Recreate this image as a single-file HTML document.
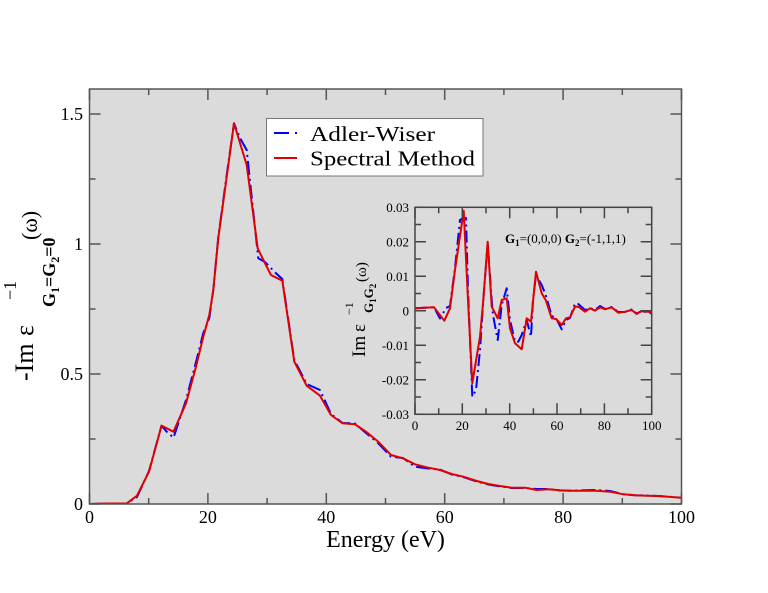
<!DOCTYPE html>
<html><head><meta charset="utf-8"><style>
html,body{margin:0;padding:0;background:#fff;}
svg{display:block;}
text{font-family:"Liberation Serif","DejaVu Serif",serif;fill:#000;}
</style></head><body>
<svg width="768" height="593" viewBox="0 0 768 593" xmlns="http://www.w3.org/2000/svg">
<defs>
<clipPath id="cm"><rect x="89.5" y="89" width="592" height="415"/></clipPath>
<clipPath id="ci"><rect x="415" y="207.3" width="236.7" height="207"/></clipPath>
</defs>
<rect x="0" y="0" width="768" height="593" fill="#fff"/>
<rect x="89.5" y="89" width="592" height="415" fill="#dbdbdb"/>

<g clip-path="url(#cm)" fill="none" stroke-width="2" stroke-linejoin="round">
<polyline stroke="#0000ff" stroke-dasharray="14,4,2,4" points="89.5,504 107,503.5 126.7,503.5 137,497 149,471 161.5,425.7 167,432 173.5,437.7 186,400 196,362 203.3,333 209.3,318 213.3,290 218.3,237 226,180 234,123.3 240,138 246.7,150 252,200 258.3,258.3 265,262 275.7,273 282.3,279 294.3,360 306.7,384 320,390 331,414 342.5,423 355,423.5 366,433 378,443 391,456.7 403,458 415,466.7 428.3,468.5 440,469.5 451.7,474.5 463.3,477 476.7,481.5 488.3,484.5 500,486.5 511.7,488 525,488 536.7,489 548.3,489 560,490.5 571.7,490.7 596.7,490 610,491 623.3,494.3 635,495.3 646.7,495.5 658.3,496 681.5,497.7"/>
<polyline stroke="#e00000" points="89.5,504 107,503.5 126.7,503.5 137,495.7 149,471.7 161.5,425.7 173.5,431.7 186,403.3 196,366.7 203.3,336.7 209.3,315 213.3,290 218.3,238 226.7,177 234,123.3 246.7,165 257.7,248.3 265,263.3 271,275 282.3,280.7 294.3,361.7 306.7,385.7 320,395.7 331,415 342.5,423.3 355,424.3 366,431.7 378,441.5 391,455 403,458.3 415,464.3 428.3,467.7 440,470 451.7,474 463.3,476.7 476.7,481 488.3,484 500,486 511.7,487.7 525,487.7 536.7,490 548.3,489.3 560,490.3 571.7,490.7 596.7,490.7 610,491.7 623.3,494.3 635,495.3 646.7,495.7 658.3,496 681.5,497.7"/>
</g>

<rect x="89.5" y="89" width="592" height="415" fill="none" stroke="#555" stroke-width="1.5"/>
<g stroke="#555" stroke-width="1.5">
<path d="M89.5,504v-11M207.9,504v-11M326.3,504v-11M444.7,504v-11M563.1,504v-11M681.5,504v-11"/>
<path d="M89.5,89v11M207.9,89v11M326.3,89v11M444.7,89v11M563.1,89v11M681.5,89v11"/>
<path d="M148.7,504v-6M267.1,504v-6M385.5,504v-6M503.9,504v-6M622.3,504v-6"/>
<path d="M148.7,89v6M267.1,89v6M385.5,89v6M503.9,89v6M622.3,89v6"/>
<path d="M89.5,504h11M89.5,374h11M89.5,244h11M89.5,114h11"/>
<path d="M681.5,504h-11M681.5,374h-11M681.5,244h-11M681.5,114h-11"/>
<path d="M89.5,439h6M89.5,309h6M89.5,179h6"/>
<path d="M681.5,439h-6M681.5,309h-6M681.5,179h-6"/>
</g>

<g font-size="18" text-anchor="end">
<text x="83" y="510">0</text>
<text x="83" y="380">0.5</text>
<text x="83" y="250">1</text>
<text x="83" y="120">1.5</text>
</g>
<g font-size="18" text-anchor="middle">
<text x="89.5" y="523">0</text>
<text x="207.9" y="523">20</text>
<text x="326.3" y="523">40</text>
<text x="444.7" y="523">60</text>
<text x="563.1" y="523">80</text>
<text x="681.5" y="523">100</text>
</g>
<text x="385.5" y="547" font-size="24" text-anchor="middle">Energy (eV)</text>

<g transform="translate(33,381) rotate(-90)">
<text x="0" y="0" font-size="26">-Im</text>
<text x="45" y="0" font-size="26">ε</text>
<text x="81" y="-17" font-size="18">−1</text>
<text x="74" y="22" font-size="18" font-weight="bold">G<tspan font-size="12" dy="4">1</tspan><tspan dy="-4">=G</tspan><tspan font-size="12" dy="4">2</tspan><tspan dy="-4">=0</tspan></text>
<text x="141" y="4" font-size="22">(ω)</text>
</g>

<rect x="266.5" y="118.5" width="216.5" height="57.5" fill="#fff" stroke="#777" stroke-width="1"/>
<line x1="274" y1="133" x2="297" y2="133" stroke="#0000ff" stroke-width="2" stroke-dasharray="15,6,2,10"/>
<line x1="274" y1="158" x2="297" y2="158" stroke="#e00000" stroke-width="2"/>
<text x="310" y="141" font-size="21" textLength="125" lengthAdjust="spacingAndGlyphs">Adler-Wiser</text>
<text x="310" y="165.5" font-size="21" textLength="165" lengthAdjust="spacingAndGlyphs">Spectral Method</text>

<g clip-path="url(#ci)" fill="none" stroke-width="2" stroke-linejoin="round">
<polyline stroke="#0000ff" stroke-dasharray="12,4,2,4" points="415,308.3 434,307.3 440,318.5 446,308 450,306 455,268 460,220 463,218 466,218 468,290 472.3,396.7 476,390 480,350 483.3,300 487.7,243 491.7,300 493,315 497.7,340 501.7,305 506.7,288.3 510,320 515,341.7 518.3,341.7 521.7,335 526.7,320 531,336.7 533,300 536,275 541.7,285 545.7,295 551.7,316 556,318 561.7,329.3 566,320 570,318 575,303.3 578.3,304 585,310 590,308.3 595,310 600,306 605,309 611.7,307 618.3,312 625,312 631.7,309.5 636.7,313.5 641.7,311 651.7,313.5"/>
<polyline stroke="#e00000" points="415,308.3 434,307.3 444.3,320.7 450,308.3 455,270 463.7,210.7 468,300 472.3,383.3 480,336.7 483.3,300 487.7,241.7 491.7,306.7 497.7,318.3 501.7,300 506.7,298.3 510,328.3 515,343.3 521.7,349.3 526.7,318.3 531,321.7 536,271.7 541.7,293.3 545.7,300 551.7,318.3 556,319 561.7,325 566,318.3 570,317.3 575,306.7 578.3,306.7 585,311.7 590,308.3 595,310.7 600,307.3 605,309.3 611.7,307.3 618.3,312.7 625,311.7 631.7,310 636.7,314 641.7,311 651.7,312.3"/>
</g>

<rect x="415" y="207.3" width="236.7" height="207" fill="none" stroke="#444" stroke-width="1.5"/>
<g stroke="#444" stroke-width="1.5">
<path d="M415,414.3v-11M462.3,414.3v-11M509.7,414.3v-11M557,414.3v-11M604.4,414.3v-11M651.7,414.3v-11"/>
<path d="M415,207.3v11M462.3,207.3v11M509.7,207.3v11M557,207.3v11M604.4,207.3v11M651.7,207.3v11"/>
<path d="M438.7,414.3v-6M486,414.3v-6M533.4,414.3v-6M580.7,414.3v-6M628,414.3v-6"/>
<path d="M438.7,207.3v6M486,207.3v6M533.4,207.3v6M580.7,207.3v6M628,207.3v6"/>
<path d="M415,207.3h11M415,241.8h11M415,276.3h11M415,310.8h11M415,345.3h11M415,379.8h11M415,414.3h11"/>
<path d="M651.7,207.3h-11M651.7,241.8h-11M651.7,276.3h-11M651.7,310.8h-11M651.7,345.3h-11M651.7,379.8h-11M651.7,414.3h-11"/>
<path d="M415,224.55h6M415,259.05h6M415,293.55h6M415,328.05h6M415,362.55h6M415,397.05h6"/>
<path d="M651.7,224.55h-6M651.7,259.05h-6M651.7,293.55h-6M651.7,328.05h-6M651.7,362.55h-6M651.7,397.05h-6"/>
</g>
<g font-size="13" text-anchor="end">
<text x="409" y="212">0.03</text>
<text x="409" y="246.5">0.02</text>
<text x="409" y="281">0.01</text>
<text x="409" y="315.5">0</text>
<text x="409" y="350">-0.01</text>
<text x="409" y="384.5">-0.02</text>
<text x="409" y="419">-0.03</text>
</g>
<g font-size="13" text-anchor="middle">
<text x="415" y="430">0</text>
<text x="462.3" y="430">20</text>
<text x="509.7" y="430">40</text>
<text x="557" y="430">60</text>
<text x="604.4" y="430">80</text>
<text x="651.7" y="430">100</text>
</g>

<g transform="translate(365,357) rotate(-90)">
<text x="0" y="0" font-size="19">Im</text>
<text x="25" y="0" font-size="19">ε</text>
<text x="42" y="-12" font-size="12">−1</text>
<text x="44" y="8" font-size="13" font-weight="bold">G<tspan font-size="9" dy="3">1</tspan><tspan dy="-3">G</tspan><tspan font-size="9" dy="3">2</tspan></text>
<text x="75" y="1" font-size="15">(ω)</text>
</g>

<text x="505" y="243" font-size="13"><tspan font-weight="bold">G</tspan><tspan font-size="9" font-weight="bold" dy="3">1</tspan><tspan dy="-3">=(0,0,0) </tspan><tspan font-weight="bold">G</tspan><tspan font-size="9" font-weight="bold" dy="3">2</tspan><tspan dy="-3">=(-1,1,1)</tspan></text>
</svg>
</body></html>
